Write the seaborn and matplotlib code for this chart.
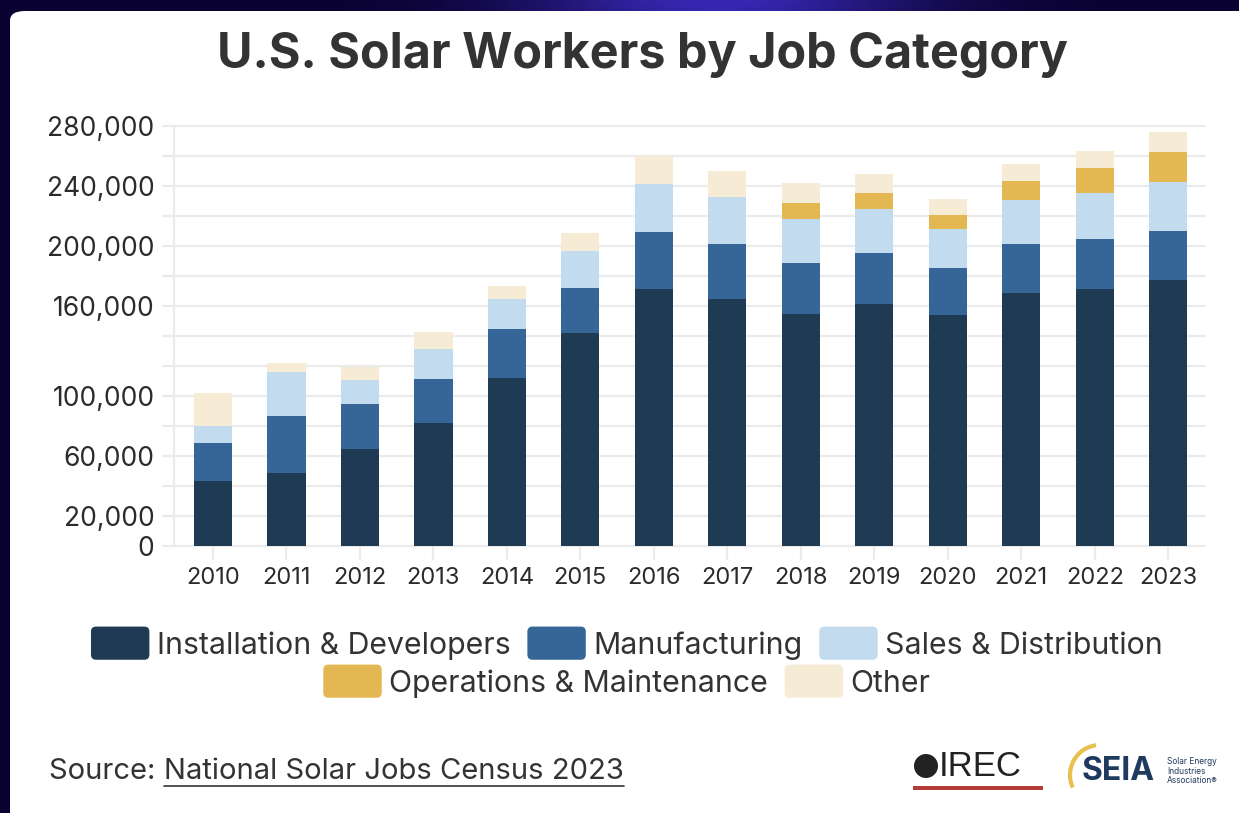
import numpy as np
import pandas as pd
import seaborn as sns
import matplotlib.pyplot as plt
from matplotlib.patches import FancyBboxPatch, Patch, Ellipse, Arc
from matplotlib.legend_handler import HandlerPatch
from matplotlib.lines import Line2D

# values (workers)
years = [2010, 2011, 2012, 2013, 2014, 2015, 2016, 2017, 2018, 2019, 2020, 2021, 2022, 2023]
installation = [43500, 48400, 64900, 81800, 112200, 141800, 171300, 164700, 154900, 161100, 154200, 168900, 171600, 177100]
manufacturing = [24900, 38300, 29800, 29500, 32200, 30400, 37800, 36900, 33500, 34200, 30900, 32700, 33100, 32700]
sales = [11800, 29500, 16000, 20000, 20000, 24700, 32000, 31100, 29600, 29400, 26000, 29100, 30600, 32600]
operations = [0, 0, 0, 0, 0, 0, 0, 0, 10900, 10900, 9600, 12400, 16700, 20500]
other = [22000, 5600, 8900, 11100, 8900, 11800, 18900, 17300, 13100, 12200, 10600, 11600, 11600, 12900]

categories = ['Installation & Developers', 'Manufacturing', 'Sales & Distribution',
              'Operations & Maintenance', 'Other']
colours = ['#1f3a53', '#366698', '#c3dbee', '#e3b852', '#f6ebd5']

y_ticks = list(range(0, 280001, 20000))
y_shown = [0, 20000, 60000, 100000, 160000, 200000, 240000, 280000]

FONT = ['Inter', 'DejaVu Sans']
TXT = '#2b2b2b'

sns.set_theme(style='white')
plt.rcParams['font.family'] = FONT

W, H = 1239, 813
fig = plt.figure(figsize=(W / 100, H / 100), dpi=100)

# dark background with a purple glow at the top
bg = fig.add_axes([0, 0, 1, 1], zorder=-10)
xx, yy = np.meshgrid(np.linspace(0, 1, 300), np.linspace(0, 1, 200))
glow = np.exp(-((xx - 0.58) ** 2) / 0.025 - (yy ** 2) / 0.002)
base = np.array([10, 2, 48]) / 255.0
lit = np.array([55, 40, 180]) / 255.0
img = base + glow[..., None] * (lit - base)
bg.imshow(img, extent=[0, 1, 0, 1], aspect='auto', origin='upper')
bg.axis('off')

# white card
card = FancyBboxPatch((10 / W, -0.05), 1.1, 1 - 11 / H + 0.05,
                      boxstyle='round,pad=0,rounding_size=0.012',
                      transform=fig.transFigure, fc='white', ec='none', zorder=-5)
fig.patches.append(card)

# plot area
ax = fig.add_axes([174 / W, 1 - 546 / H, (1205 - 174) / W, (546 - 126) / H])
ax.set_facecolor('none')

df = pd.DataFrame({'year': [str(y) for y in years],
                   categories[0]: installation, categories[1]: manufacturing,
                   categories[2]: sales, categories[3]: operations, categories[4]: other})
cum = df[categories].cumsum(axis=1)

# draw totals first, then cover with lower layers
for cat, col in reversed(list(zip(categories, colours))):
    sns.barplot(x=df['year'], y=cum[cat], color=col, width=0.52, saturation=1,
                linewidth=0, ax=ax, zorder=3)

ax.set_xlim(-0.53, 13.5)
ax.set_ylim(0, 280000)
ax.set_xlabel('')
ax.set_ylabel('')
ax.set_yticks(y_ticks)
ax.set_yticklabels([f'{v:,}' if v in y_shown else '' for v in y_ticks])
ax.yaxis.grid(True, color='#ebebeb', linewidth=1.6, zorder=0)
ax.set_axisbelow(True)
for s in ['top', 'right', 'bottom']:
    ax.spines[s].set_visible(False)
ax.spines['left'].set_color('#ebebeb')
ax.spines['left'].set_linewidth(1.6)
ax.tick_params(axis='y', length=9, width=1.6, color='#ebebeb', pad=5,
               labelsize=19, labelcolor=TXT, left=True)
ax.tick_params(axis='x', length=10, width=1.6, color='#ebebeb', pad=5,
               labelsize=17, labelcolor=TXT, bottom=True)
for gl in ax.get_ygridlines():
    gl.set_clip_on(False)

# title
fig.text(642 / W, 1 - 55 / H, 'U.S. Solar Workers by Job Category', ha='center', va='center',
         fontsize=34.9, fontweight='bold', color='#333333')


# legend with rounded swatches
class RoundHandler(HandlerPatch):
    def create_artists(self, legend, orig_handle, xdescent, ydescent, width, height, fontsize, trans):
        p = FancyBboxPatch((-xdescent, -ydescent - 0.15 * height), width, height * 1.3,
                           boxstyle=f'round,pad=0,rounding_size={height * 0.2}',
                           fc=orig_handle.get_facecolor(), ec='none', transform=trans)
        return [p]


handles = [Patch(facecolor=c, label=l) for l, c in zip(categories, colours)]
common = dict(frameon=False, fontsize=21.8, handlelength=1.93, handleheight=0.92,
              handletextpad=0.25, columnspacing=0.55, labelcolor='#333333',
              handler_map={Patch: RoundHandler()}, borderpad=0, borderaxespad=0)
leg1 = fig.legend(handles=handles[:3], loc='center', ncol=3,
                  bbox_to_anchor=(627 / W, 1 - 645 / H), **common)
leg2 = fig.legend(handles=handles[3:], loc='center', ncol=2,
                  bbox_to_anchor=(627 / W, 1 - 683 / H), **common)

# source line with underlined link text
t1 = fig.text(49 / W, 1 - 771 / H, 'Source: ', ha='left', va='center', fontsize=21, color='#333333')
fig.canvas.draw()
r = fig.canvas.get_renderer()
bb = t1.get_window_extent(r)
t2 = fig.text(bb.x1 / W, 1 - 771 / H, 'National Solar Jobs Census 2023', ha='left', va='center',
              fontsize=21, color='#333333')
bb2 = t2.get_window_extent(r)
fig.lines.append(Line2D([bb2.x0 / W, bb2.x1 / W], [1 - 786 / H, 1 - 786 / H],
                        transform=fig.transFigure, color='#333333', linewidth=1.2))

# logos (approximated with text)
fig.patches.append(Ellipse((926 / W, 1 - 766 / H), 24 / W, 24 / H, transform=fig.transFigure,
                           fc='#222222', ec='none'))
fig.text(939 / W, 1 - 766 / H, 'IREC', ha='left', va='center', fontsize=25,
         color='#222222', family=['Liberation Sans Narrow', 'Liberation Sans', 'DejaVu Sans'])
fig.patches.append(FancyBboxPatch((913 / W, 1 - 790 / H), 130 / W, 4 / H, boxstyle='square,pad=0',
                                  transform=fig.transFigure, fc='#b43a35', ec='none'))
fig.patches.append(Arc((1100 / W, 1 - 775 / H), 60 / W, 60 / H, theta1=95, theta2=215,
                       transform=fig.transFigure, color='#e8c04f', linewidth=3))
fig.text(1082 / W, 1 - 771 / H, 'SEIA', ha='left', va='center', fontsize=23, fontweight='bold',
         color='#1f3a5f')
fig.text(1167 / W, 1 - 771 / H, 'Solar Energy\nIndustries\nAssociation®', ha='left', va='center',
         fontsize=6, color='#1f3a5f', linespacing=1.1)

fig.savefig('out.png', dpi=100)
